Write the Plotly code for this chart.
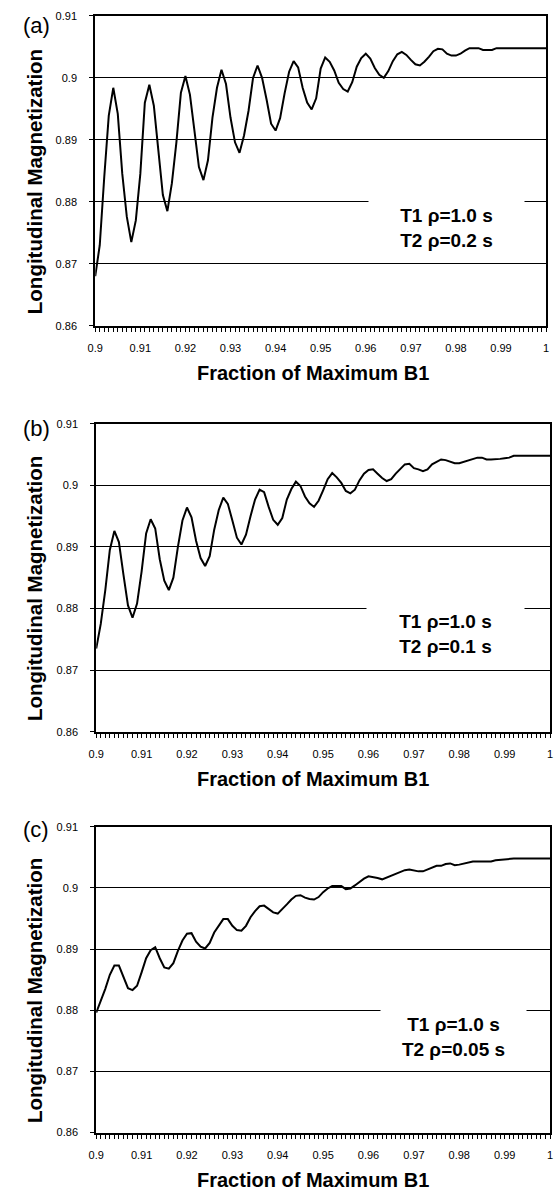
import plotly.graph_objects as go

# ---------------- data ----------------
b1_fraction = [round(0.9 + 0.001 * i, 3) for i in range(101)]  # category axis 0.900 ... 1.000

mz_t2_020 = [
    0.8680, 0.8730, 0.8840, 0.8939, 0.8984, 0.8942, 0.8845, 0.8776, 0.8735, 0.8770,
    0.8845, 0.8960, 0.8989, 0.8955, 0.8883, 0.8811, 0.8785, 0.8830, 0.8896, 0.8976,
    0.9003, 0.8973, 0.8915, 0.8856, 0.8835, 0.8867, 0.8936, 0.8984, 0.9013, 0.8990,
    0.8936, 0.8896, 0.8879, 0.8907, 0.8947, 0.9000, 0.9020, 0.9000, 0.8965, 0.8926,
    0.8915, 0.8935, 0.8975, 0.9010, 0.9027, 0.9017, 0.8984, 0.8960, 0.8949, 0.8967,
    0.9015, 0.9033, 0.9026, 0.9012, 0.8992, 0.8982, 0.8978, 0.8993, 0.9018, 0.9032,
    0.9039, 0.9031, 0.9016, 0.9005, 0.9000, 0.9011, 0.9027, 0.9038, 0.9042, 0.9037,
    0.9029, 0.9022, 0.9020, 0.9026, 0.9034, 0.9043, 0.9047, 0.9046, 0.9039, 0.9036,
    0.9036, 0.9039, 0.9044, 0.9048, 0.9048, 0.9048, 0.9045, 0.9045, 0.9045, 0.9048,
    0.9048, 0.9048, 0.9048, 0.9048, 0.9048, 0.9048, 0.9048, 0.9048, 0.9048, 0.9048,
    0.9048,
]

mz_t2_010 = [
    0.8735, 0.8775, 0.8830, 0.8895, 0.8926, 0.8908, 0.8855, 0.8805, 0.8785, 0.8808,
    0.8860, 0.8922, 0.8945, 0.8930, 0.8880, 0.8845, 0.8830, 0.8850, 0.8900, 0.8943,
    0.8964, 0.8948, 0.8910, 0.8882, 0.8869, 0.8885, 0.8928, 0.8960, 0.8980, 0.8970,
    0.8943, 0.8915, 0.8904, 0.8920, 0.8950, 0.8977, 0.8993, 0.8989, 0.8965, 0.8944,
    0.8936, 0.8947, 0.8977, 0.8994, 0.9006, 0.8999, 0.8982, 0.8971, 0.8965, 0.8975,
    0.8992, 0.9010, 0.9020, 0.9013, 0.9004, 0.8991, 0.8987, 0.8993, 0.9008, 0.9019,
    0.9025, 0.9026, 0.9019, 0.9012, 0.9007, 0.9010, 0.9019, 0.9027, 0.9034, 0.9035,
    0.9028, 0.9026, 0.9023, 0.9026, 0.9034, 0.9038, 0.9042, 0.9041, 0.9039, 0.9036,
    0.9036, 0.9038, 0.9040, 0.9043, 0.9045, 0.9045, 0.9042, 0.9042, 0.9042, 0.9043,
    0.9044, 0.9045, 0.9048, 0.9048, 0.9048, 0.9048, 0.9048, 0.9048, 0.9048, 0.9048,
    0.9048,
]

mz_t2_005 = [
    0.8796, 0.8815, 0.8835, 0.8858, 0.8873, 0.8873, 0.8853, 0.8836, 0.8833, 0.8840,
    0.8862, 0.8885, 0.8898, 0.8903, 0.8885, 0.8870, 0.8868, 0.8877, 0.8897, 0.8914,
    0.8925, 0.8926, 0.8912, 0.8904, 0.8901, 0.8910, 0.8927, 0.8939, 0.8949, 0.8949,
    0.8938, 0.8931, 0.8930, 0.8938, 0.8952, 0.8962, 0.8970, 0.8971, 0.8965, 0.8960,
    0.8958, 0.8965, 0.8973, 0.8981, 0.8987, 0.8988, 0.8984, 0.8982, 0.8981, 0.8985,
    0.8993, 0.8999, 0.9003, 0.9003, 0.9003, 0.8998, 0.8999, 0.9004, 0.9010, 0.9015,
    0.9019, 0.9018, 0.9016, 0.9014, 0.9017, 0.9020, 0.9022, 0.9025, 0.9029, 0.9030,
    0.9028, 0.9027, 0.9027, 0.9030, 0.9034, 0.9036, 0.9036, 0.9039, 0.9040, 0.9037,
    0.9038, 0.9040, 0.9041, 0.9043, 0.9043, 0.9043, 0.9043, 0.9043, 0.9045, 0.9046,
    0.9046, 0.9047, 0.9048, 0.9048, 0.9048, 0.9048, 0.9048, 0.9048, 0.9048, 0.9048,
    0.9048,
]

series = [mz_t2_020, mz_t2_010, mz_t2_005]
panel_labels = ["(a)", "(b)", "(c)"]
t1_label = "T1 ρ=1.0 s"
t2_labels = ["T2 ρ=0.2 s", "T2 ρ=0.1 s", "T2 ρ=0.05 s"]
x_title = "Fraction of Maximum B1"
y_title = "Longitudinal Magnetization"
y_range = [0.86, 0.91]
x_range = [0.9, 1.0]

# ---------------- layout geometry (pixels) ----------------
W, H = 555, 1199
# left, right, top, bottom of each plot area
boxes = [(89, 549, 10, 323), (90, 553, 422, 733), (90, 553, 829, 1138)]
label_y = [20, 427, 832]
legend_box = [(447, 224, 155), (446, 634, 157), (455, 1041, 145)]

FONT = "Arial, Liberation Sans, sans-serif"

fig = go.Figure()
annotations = []

for k, (l, r, t, b) in enumerate(boxes):
    sfx = "" if k == 0 else str(k + 1)
    fig.add_trace(go.Scatter(
        x=b1_fraction, y=series[k], mode="lines",
        line=dict(color="black", width=2),
        xaxis="x" + sfx, yaxis="y" + sfx, showlegend=False,
    ))
    xa = dict(
        domain=[l / W, r / W], range=x_range, anchor="y" + sfx,
        tickmode="linear", tick0=0.9, dtick=0.01,
        ticks="outside", ticklen=4, tickwidth=1, tickcolor="black",
        minor=dict(dtick=0.001, tick0=0.9, ticks="outside", ticklen=4,
                   tickwidth=1, tickcolor="black", showgrid=False),
        showline=True, linecolor="black", linewidth=2, mirror=True,
        showgrid=False, zeroline=False,
        tickfont=dict(family=FONT, size=11, color="black"),
        ticklabelstandoff=7,
    )
    ya = dict(
        domain=[1 - b / H, 1 - t / H], range=y_range, anchor="x" + sfx,
        tickmode="linear", tick0=0.86, dtick=0.01,
        ticks="outside", ticklen=4, tickwidth=1, tickcolor="black",
        showline=True, linecolor="black", linewidth=2, mirror=True,
        showgrid=True, gridcolor="black", gridwidth=1, zeroline=False,
        tickfont=dict(family=FONT, size=11, color="black"),
        ticklabelstandoff=10,
    )
    fig.update_layout(**{"xaxis" + sfx: xa, "yaxis" + sfx: ya})

    # panel label
    annotations.append(dict(
        text=panel_labels[k], xref="paper", yref="paper",
        x=13 / W, y=1 - label_y[k] / H, xanchor="left", yanchor="middle",
        showarrow=False, font=dict(family=FONT, size=22, color="black"),
    ))
    # y-axis title
    annotations.append(dict(
        text="<b>" + y_title + "</b>", xref="paper", yref="paper",
        x=27 / W, y=1 - ((t + b) / 2 + 11) / H, xanchor="center", yanchor="middle",
        textangle=-90, showarrow=False, font=dict(family=FONT, size=20.5, color="black"),
    ))
    # x-axis title
    annotations.append(dict(
        text="<b>" + x_title + "</b>", xref="paper", yref="paper",
        x=311 / W, y=1 - (b + 48) / H, xanchor="center", yanchor="middle",
        showarrow=False, font=dict(family=FONT, size=20, color="black"),
    ))
    # relaxation-time text box
    cx, cy, bw = legend_box[k]
    annotations.append(dict(
        text="<b>" + t1_label + "<br>" + t2_labels[k] + "</b>",
        xref="paper", yref="paper", x=cx / W, y=1 - cy / H,
        xanchor="center", yanchor="middle", align="center",
        width=bw, height=60, bgcolor="white", borderpad=0,
        showarrow=False, font=dict(family=FONT, size=19, color="black"),
    ))

fig.update_layout(
    width=W, height=H, margin=dict(l=0, r=0, t=0, b=0),
    paper_bgcolor="white", plot_bgcolor="white",
    annotations=annotations,
)

fig.write_html("out.html")
